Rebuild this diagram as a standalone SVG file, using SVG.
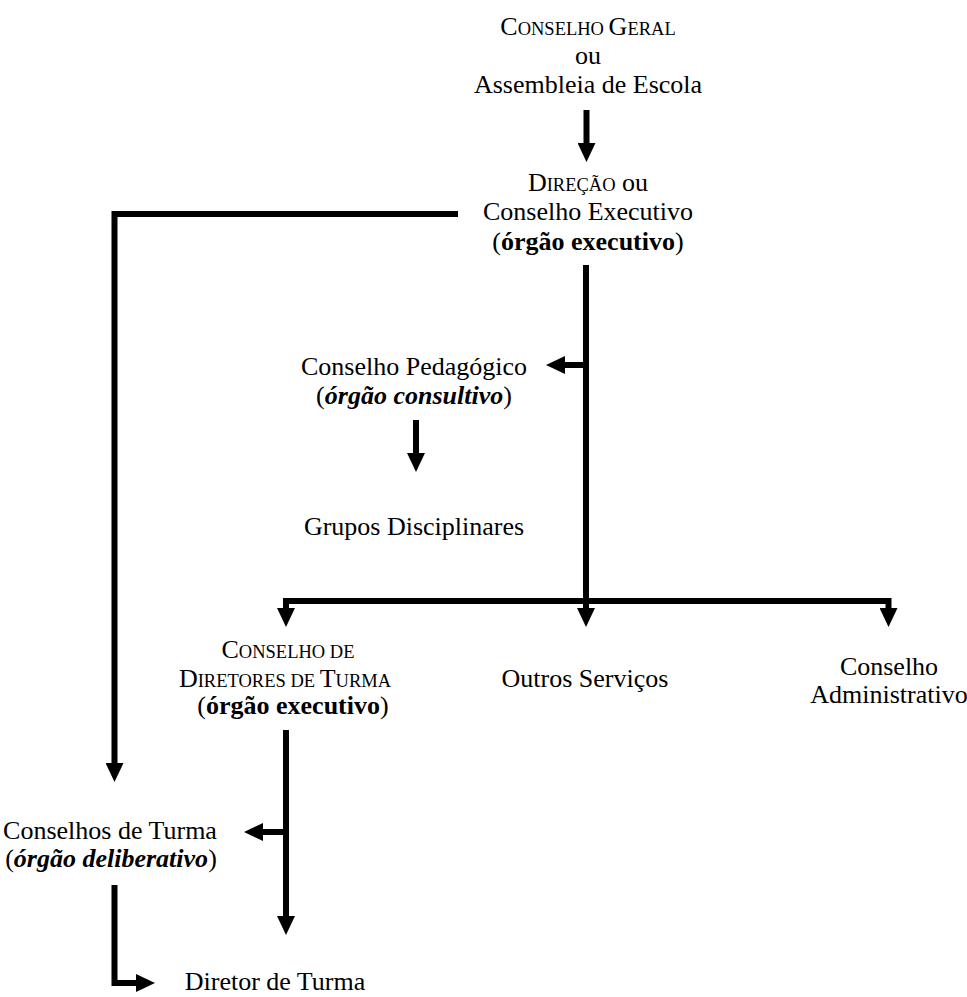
<svg xmlns="http://www.w3.org/2000/svg" width="967" height="997" viewBox="0 0 967 997">
<defs>
<style>
text{font-family:"Liberation Serif","Times New Roman",serif;font-size:26px;fill:#000;text-anchor:middle}
.sc{font-size:18.5px}
.b{font-weight:bold}
.bi{font-weight:bold;font-style:italic}
.c{fill:none;stroke:#000;stroke-width:6;stroke-linejoin:miter;stroke-linecap:butt}
</style>
<marker id="ah" markerUnits="userSpaceOnUse" viewBox="0 -9 19 18" refX="1" refY="0" markerWidth="19" markerHeight="18" orient="auto">
<path d="M0,-9 L19,0 L0,9 Z" fill="#000"/>
</marker>
</defs>
<rect width="967" height="997" fill="#fff"/>
<g id="connectors">
<path class="c" d="M586.5,110 V144" marker-end="url(#ah)"/>
<path class="c" d="M458,214 H114.5 V764" marker-end="url(#ah)"/>
<path class="c" d="M586,265 V609" marker-end="url(#ah)"/>
<path class="c" d="M586,365 H564" marker-end="url(#ah)"/>
<path class="c" d="M416,420 V454" marker-end="url(#ah)"/>
<path class="c" d="M586,601 H286 V609" marker-end="url(#ah)"/>
<path class="c" d="M586,601 H888.5 V609" marker-end="url(#ah)"/>
<path class="c" d="M286,730 V917" marker-end="url(#ah)"/>
<path class="c" d="M286,832 H262" marker-end="url(#ah)"/>
<path class="c" d="M114.5,885 V983 H137" marker-end="url(#ah)"/>
</g>
<g id="conselho-geral">
<text x="588" y="35">C<tspan class="sc">ONSELHO </tspan>G<tspan class="sc">ERAL</tspan></text>
<text x="588" y="64">ou</text>
<text x="588" y="93">Assembleia de Escola</text>
</g>
<g id="direcao">
<text x="588" y="191">D<tspan class="sc">IREÇÃO</tspan> ou</text>
<text x="588" y="220">Conselho Executivo</text>
<text x="588" y="250">(<tspan class="b">órgão executivo</tspan>)</text>
</g>
<g id="conselho-pedagogico">
<text x="414" y="375">Conselho Pedagógico</text>
<text x="414" y="404">(<tspan class="bi">órgão consultivo</tspan>)</text>
</g>
<g id="grupos-disciplinares">
<text x="414" y="535">Grupos Disciplinares</text>
</g>
<g id="conselho-diretores-turma">
<text x="288" y="658">C<tspan class="sc">ONSELHO DE</tspan></text>
<text x="285" y="687">D<tspan class="sc">IRETORES DE </tspan>T<tspan class="sc">URMA</tspan></text>
<text x="293" y="714">(<tspan class="b">órgão executivo</tspan>)</text>
</g>
<g id="outros-servicos">
<text x="585" y="687">Outros Serviços</text>
</g>
<g id="conselho-administrativo">
<text x="889" y="675">Conselho</text>
<text x="889" y="703">Administrativo</text>
</g>
<g id="conselhos-turma">
<text x="110" y="839">Conselhos de Turma</text>
<text x="111" y="867">(<tspan class="bi">órgão deliberativo</tspan>)</text>
</g>
<g id="diretor-turma">
<text x="275" y="990">Diretor de Turma</text>
</g>
</svg>
